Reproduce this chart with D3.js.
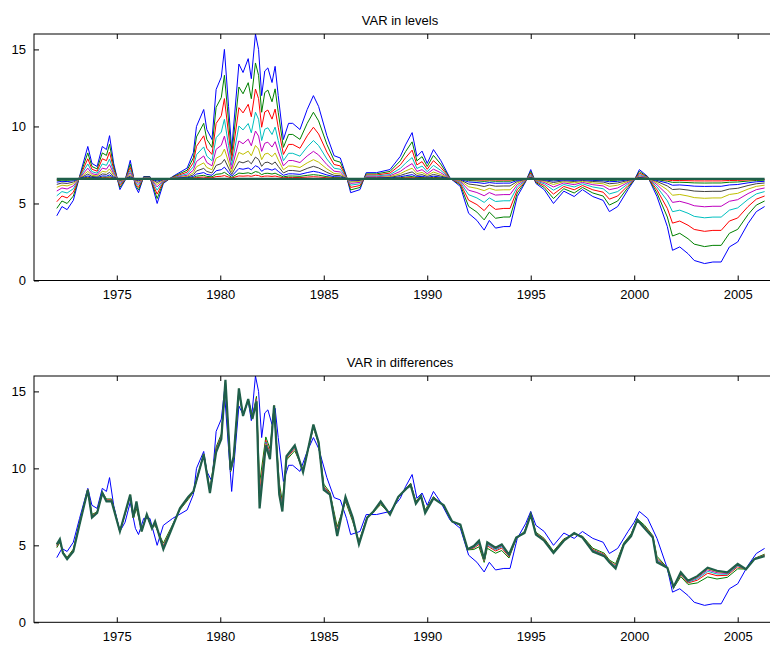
<!DOCTYPE html>
<html>
<head>
<meta charset="utf-8">
<script src="https://cdn.jsdelivr.net/npm/d3@7"></script>
<style>
body { margin: 0; background: #fff; }
text { font-family: "Liberation Sans", Arial, sans-serif; font-size: 12px; }
</style>
</head>
<body>
<script>
// actual series (blue), [year, value]
var actual = [[1972.1,4.2],[1972.35,4.8],[1972.6,4.6],[1972.9,5.2],[1973.2,6.75],[1973.6,8.7],[1973.8,7.6],[1974.05,7.4],[1974.3,8.7],[1974.5,8.5],[1974.65,9.4],[1974.85,7.6],[1975.15,5.9],[1975.4,6.5],[1975.65,7.8],[1975.9,6.1],[1976.05,5.7],[1976.3,6.75],[1976.6,6.75],[1976.95,5.0],[1977.25,6.3],[1977.7,6.75],[1978.4,7.3],[1978.7,8.3],[1978.85,10.0],[1979.2,11.1],[1979.35,9.8],[1979.6,9.15],[1979.8,12.4],[1980.05,13.2],[1980.2,15.0],[1980.4,11.3],[1980.55,8.5],[1980.9,14.05],[1981.1,13.5],[1981.35,14.4],[1981.5,13.1],[1981.7,16.0],[1981.85,15.0],[1982.0,12.0],[1982.15,13.6],[1982.3,13.8],[1982.5,12.85],[1982.65,13.9],[1982.8,12.0],[1983.05,9.15],[1983.3,10.2],[1983.5,10.2],[1983.85,9.8],[1984.2,11.1],[1984.5,12.0],[1984.75,11.3],[1985.15,9.4],[1985.5,8.1],[1985.8,7.95],[1986.1,6.75],[1986.3,5.7],[1986.75,5.9],[1987.05,7.0],[1987.55,7.0],[1988.2,7.2],[1988.7,8.06],[1988.95,8.8],[1989.27,9.6],[1989.5,8.06],[1989.75,8.4],[1990.0,7.6],[1990.3,8.5],[1990.65,7.8],[1991.1,6.65],[1991.6,6.1],[1992.0,4.36],[1992.4,3.9],[1992.75,3.27],[1993.0,3.9],[1993.3,3.4],[1993.7,3.5],[1994.0,3.5],[1994.35,5.45],[1994.75,6.4],[1995.0,7.2],[1995.25,6.3],[1995.65,5.9],[1996.1,5.0],[1996.6,5.8],[1997.1,5.45],[1997.5,5.9],[1998.0,5.45],[1998.5,5.2],[1998.8,4.47],[1999.2,4.8],[1999.7,5.9],[2000.0,6.5],[2000.25,7.2],[2000.65,6.75],[2001.1,5.45],[2001.6,3.5],[2001.85,1.96],[2002.2,2.18],[2002.6,1.74],[2002.9,1.3],[2003.4,1.1],[2003.8,1.2],[2004.2,1.2],[2004.6,2.18],[2005.0,2.5],[2005.5,3.7],[2005.9,4.47],[2006.3,4.8]];

// VAR in differences forecast (thick dark green)
var diffFcst = [[1972.1,5.06],[1972.25,5.4],[1972.4,4.5],[1972.6,4.1],[1972.9,4.6],[1973.2,6.35],[1973.6,8.6],[1973.8,6.8],[1974.05,7.1],[1974.3,8.4],[1974.5,7.85],[1974.75,7.85],[1975.15,5.9],[1975.65,8.3],[1975.8,6.8],[1975.95,7.85],[1976.2,5.9],[1976.45,7.0],[1976.7,6.1],[1976.85,6.55],[1977.25,4.75],[1977.6,5.9],[1978.05,7.4],[1978.45,8.15],[1978.7,8.5],[1979.2,10.9],[1979.5,8.4],[1979.8,11.05],[1980.05,11.9],[1980.25,15.75],[1980.5,9.9],[1980.65,10.8],[1980.9,15.2],[1981.1,13.4],[1981.35,14.5],[1981.55,13.2],[1981.75,14.35],[1981.9,7.4],[1982.2,11.5],[1982.4,10.6],[1982.6,14.1],[1982.85,8.3],[1983.0,7.2],[1983.2,10.8],[1983.6,11.5],[1984.0,9.75],[1984.5,12.85],[1984.75,11.7],[1985.0,8.6],[1985.3,8.3],[1985.65,5.6],[1986.05,8.15],[1986.4,6.8],[1986.7,5.06],[1987.1,6.8],[1987.4,7.2],[1987.75,7.85],[1988.2,7.0],[1988.6,8.15],[1989.0,8.7],[1989.2,8.9],[1989.45,7.7],[1989.7,8.2],[1989.9,7.1],[1990.3,8.05],[1990.8,7.6],[1991.2,6.55],[1991.6,6.35],[1991.95,4.75],[1992.25,4.95],[1992.5,5.3],[1992.75,4.1],[1992.9,5.2],[1993.3,4.85],[1993.6,5.06],[1993.95,4.4],[1994.3,5.5],[1994.7,5.8],[1995.0,7.0],[1995.25,5.7],[1995.65,5.3],[1996.1,4.5],[1996.6,5.3],[1997.1,5.8],[1997.5,5.5],[1998.0,4.6],[1998.55,4.3],[1998.8,3.9],[1999.1,3.5],[1999.5,5.06],[1999.85,5.6],[2000.15,6.65],[2000.5,6.1],[2000.9,5.5],[2001.1,3.9],[2001.6,3.55],[2001.9,2.3],[2002.25,3.25],[2002.6,2.7],[2003.05,3.0],[2003.55,3.55],[2004.0,3.35],[2004.5,3.25],[2005.0,3.8],[2005.4,3.45],[2005.8,4.1],[2006.3,4.3]];

// weight of the actual series in each plotted line (read from spread of the fan)
var levelWeights = [1, 0.8, 0.62, 0.46, 0.33, 0.23, 0.15, 0.09, 0.05, 0.025, 0];
var diffWeights = [1, 0.25, 0.15, 0.1, 0.06, 0.03, 0];
var levelMean = 6.6;
var colors = ['#0000ff', '#008000', '#ff0000', '#00bfbf', '#bf00bf', '#bfbf00', '#404040'];
var yTicks = [0, 5, 10, 15];
var xTicks = [1975, 1980, 1985, 1990, 1995, 2000, 2005];

var width = 770, height = 647;
var svg = d3.select('body').append('svg').attr('width', width).attr('height', height);

var xScale = d3.scaleLinear().domain([1971, 2005]).range([34, 737.7]);

function drawPanel(top, bottom, title, lines) {
    var yScale = d3.scaleLinear().domain([0, 16]).range([bottom, top]);
    var g = svg.append('g');
    var right = 772;

    var line = d3.line().x(function (d) { return xScale(d[0]); }).y(function (d) { return yScale(d[1]); });
    lines.forEach(function (l, i) {
        var last = i === lines.length - 1;
        g.append('path').datum(l)
            .attr('fill', 'none')
            .attr('stroke', last ? '#1f5f4a' : colors[i % colors.length])
            .attr('stroke-width', last ? 2.2 : 1)
            .attr('d', line);
    });

    g.append('rect').attr('x', 34).attr('y', top).attr('width', right - 34).attr('height', bottom - top)
        .attr('fill', 'none').attr('stroke', '#000').attr('stroke-width', 1);

    var xAxis = d3.axisBottom(xScale).tickValues(xTicks).tickFormat(d3.format('d')).tickSizeInner(-5).tickSizeOuter(0).tickPadding(9);
    var xg = g.append('g').attr('transform', 'translate(0,' + bottom + ')').call(xAxis);
    xg.select('.domain').remove();
    var xTop = d3.axisTop(xScale).tickValues(xTicks).tickFormat('').tickSizeInner(-5).tickSizeOuter(0);
    g.append('g').attr('transform', 'translate(0,' + top + ')').call(xTop).select('.domain').remove();

    var yAxis = d3.axisLeft(yScale).tickValues(yTicks).tickSizeInner(-5).tickSizeOuter(0).tickPadding(8);
    var yg = g.append('g').attr('transform', 'translate(34,0)').call(yAxis);
    yg.select('.domain').remove();
    g.selectAll('.tick text').attr('fill', '#000').style('font-size', '13px');

    g.append('text').attr('x', 400).attr('y', top - 9).attr('text-anchor', 'middle')
        .style('font-size', '13px').text(title);
}

// top: fan between actual and the unconditional mean
var topLines = levelWeights.map(function (w) {
    return actual.map(function (d) { return [d[0], levelMean + (d[1] - levelMean) * w]; });
});
// bottom: actual interpolated at forecast dates, blended with the differences forecast
var actualAt = d3.scaleLinear().domain(actual.map(function (d) { return d[0]; })).range(actual.map(function (d) { return d[1]; })).clamp(true);
var bottomLines = diffWeights.map(function (w, i) {
    if (i === 0) return actual;
    return diffFcst.map(function (d) { return [d[0], d[1] + (actualAt(d[0]) - d[1]) * w]; });
});

drawPanel(34, 280.5, 'VAR in levels', topLines);
drawPanel(376, 622.3, 'VAR in differences', bottomLines);
</script>
</body>
</html>
